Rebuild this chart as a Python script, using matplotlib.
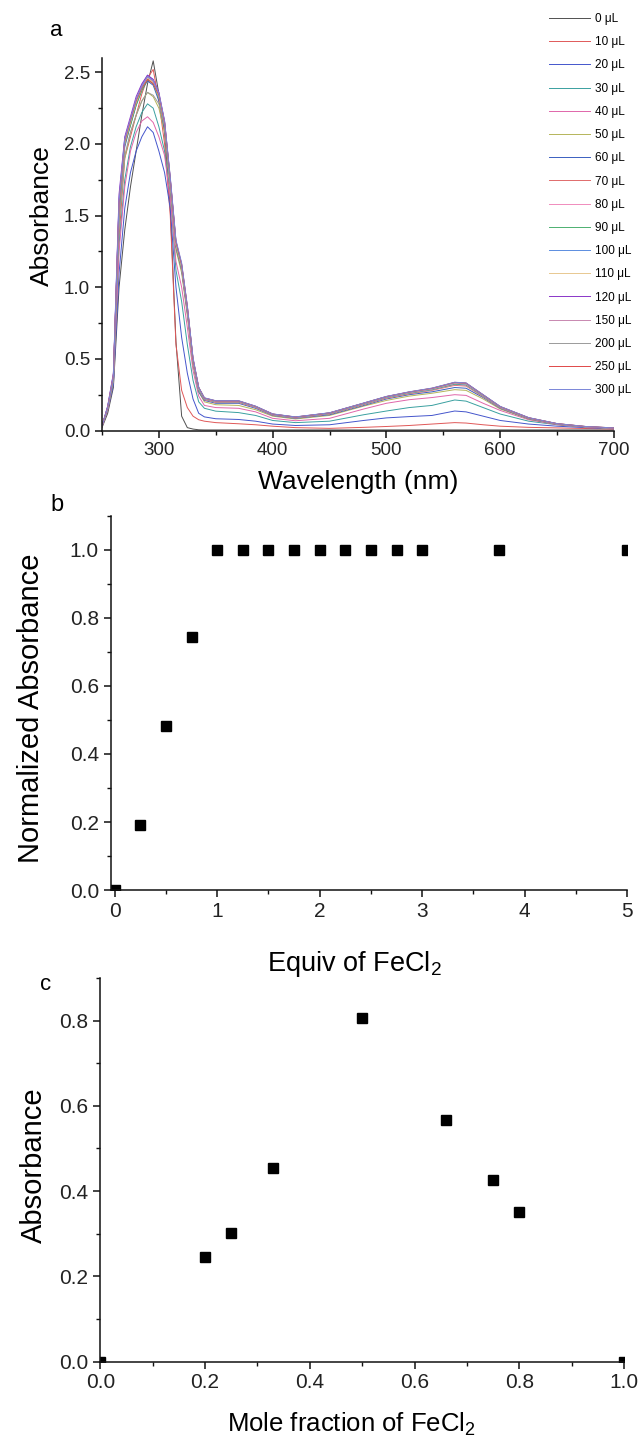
import numpy as np
import matplotlib
matplotlib.use("Agg")
import matplotlib.pyplot as plt
from matplotlib.ticker import MultipleLocator

plt.rcParams['font.family'] = ['Liberation Sans', 'DejaVu Sans']
plt.rcParams['mathtext.fontset'] = 'custom'
plt.rcParams['mathtext.rm'] = 'Liberation Sans'
plt.rcParams['mathtext.it'] = 'Liberation Sans:italic'

# ---- panel a: titration spectra ----
wl = [250, 255, 260, 265, 270, 275, 280, 285, 290, 295, 300, 305, 310, 315, 320,
      325, 330, 335, 340, 350, 370, 385, 400, 420, 450, 480, 500, 520, 540, 560,
      570, 585, 600, 625, 650, 675, 700]

vol_labels = ['0 μL', '10 μL', '20 μL', '30 μL', '40 μL', '50 μL', '60 μL', '70 μL',
              '80 μL', '90 μL', '100 μL', '110 μL', '120 μL', '150 μL', '200 μL',
              '250 μL', '300 μL']

colors = ['#505050', '#e05858', '#4455cc', '#3aa0a0', '#e066aa', '#b5b55a', '#3a5fc0',
          '#e06b6b', '#f08cbc', '#4cb070', '#5b8de0', '#e8c890', '#8a35c8', '#c888b0',
          '#9a9a9a', '#e04848', '#7a86d8']

a0 = [0.02, 0.12, 0.30, 1.00, 1.40, 1.70, 1.95, 2.20, 2.42, 2.58, 2.35, 2.08, 1.55, 0.62, 0.10,
      0.02, 0.01, 0.005, 0.004, 0.004, 0.004, 0.004, 0.004, 0.004, 0.004, 0.004, 0.004, 0.004, 0.004, 0.004,
      0.004, 0.004, 0.004, 0.004, 0.004, 0.004, 0.004]
a10 = [0.03, 0.14, 0.33, 1.35, 1.90, 2.05, 2.20, 2.35, 2.46, 2.52, 2.30, 2.00, 1.50, 0.60, 0.28,
       0.16, 0.10, 0.075, 0.065, 0.055, 0.047, 0.040, 0.030, 0.020, 0.015, 0.022, 0.028, 0.035, 0.045, 0.055,
       0.052, 0.040, 0.030, 0.022, 0.018, 0.014, 0.010]
a20 = [0.03, 0.14, 0.32, 1.10, 1.55, 1.80, 1.95, 2.05, 2.12, 2.08, 1.95, 1.80, 1.55, 1.00, 0.65,
       0.40, 0.22, 0.12, 0.095, 0.082, 0.077, 0.065, 0.045, 0.035, 0.040, 0.070, 0.088, 0.097, 0.105, 0.136,
       0.130, 0.100, 0.070, 0.045, 0.030, 0.020, 0.012]
a30 = [0.03, 0.15, 0.34, 1.30, 1.75, 1.98, 2.12, 2.22, 2.28, 2.25, 2.12, 1.95, 1.65, 1.12, 0.90,
       0.60, 0.35, 0.20, 0.155, 0.135, 0.125, 0.105, 0.070, 0.055, 0.065, 0.110, 0.136, 0.160, 0.175, 0.213,
       0.205, 0.160, 0.115, 0.065, 0.040, 0.025, 0.015]
a40 = [0.03, 0.15, 0.35, 1.25, 1.70, 1.95, 2.08, 2.16, 2.19, 2.15, 2.05, 1.92, 1.62, 1.18, 1.00,
       0.72, 0.42, 0.24, 0.175, 0.160, 0.155, 0.130, 0.085, 0.068, 0.085, 0.150, 0.190, 0.215, 0.230, 0.250,
       0.245, 0.190, 0.140, 0.075, 0.040, 0.025, 0.015]
a50 = [0.03, 0.15, 0.36, 1.45, 1.90, 2.08, 2.20, 2.30, 2.36, 2.33, 2.25, 2.08, 1.70, 1.26, 1.10,
       0.80, 0.46, 0.27, 0.20, 0.18, 0.175, 0.145, 0.100, 0.080, 0.105, 0.170, 0.210, 0.240, 0.260, 0.285,
       0.280, 0.220, 0.150, 0.080, 0.042, 0.025, 0.015]
a60 = [0.03, 0.16, 0.37, 1.50, 1.98, 2.13, 2.27, 2.38, 2.44, 2.41, 2.30, 2.10, 1.72, 1.28, 1.12,
       0.82, 0.47, 0.27, 0.21, 0.19, 0.19, 0.155, 0.105, 0.085, 0.110, 0.175, 0.220, 0.250, 0.270, 0.300,
       0.295, 0.230, 0.155, 0.082, 0.043, 0.025, 0.015]
a70 = [0.03, 0.16, 0.38, 1.55, 2.00, 2.14, 2.28, 2.39, 2.46, 2.43, 2.33, 2.13, 1.73, 1.29, 1.13,
       0.83, 0.47, 0.28, 0.215, 0.195, 0.195, 0.160, 0.108, 0.088, 0.115, 0.180, 0.225, 0.255, 0.280, 0.315,
       0.310, 0.235, 0.158, 0.084, 0.044, 0.025, 0.015]
a80 = [0.03, 0.16, 0.38, 1.60, 2.02, 2.16, 2.30, 2.40, 2.47, 2.44, 2.34, 2.14, 1.74, 1.30, 1.14,
       0.84, 0.48, 0.28, 0.218, 0.198, 0.198, 0.162, 0.110, 0.089, 0.117, 0.182, 0.228, 0.258, 0.283, 0.320,
       0.315, 0.238, 0.160, 0.085, 0.045, 0.026, 0.016]
a90 = [0.03, 0.16, 0.37, 1.55, 2.00, 2.13, 2.27, 2.37, 2.45, 2.42, 2.32, 2.13, 1.73, 1.29, 1.13,
       0.84, 0.48, 0.28, 0.220, 0.200, 0.200, 0.164, 0.111, 0.090, 0.118, 0.184, 0.230, 0.260, 0.285, 0.323,
       0.318, 0.240, 0.161, 0.085, 0.045, 0.026, 0.016]
a100 = [0.03, 0.17, 0.39, 1.62, 2.04, 2.17, 2.31, 2.41, 2.48, 2.45, 2.35, 2.15, 1.75, 1.31, 1.15,
        0.85, 0.49, 0.29, 0.222, 0.202, 0.202, 0.165, 0.112, 0.091, 0.120, 0.186, 0.232, 0.263, 0.288, 0.327,
        0.322, 0.243, 0.163, 0.086, 0.046, 0.026, 0.016]
a110 = [0.03, 0.16, 0.38, 1.58, 2.01, 2.15, 2.29, 2.39, 2.46, 2.43, 2.33, 2.14, 1.74, 1.30, 1.14,
        0.85, 0.49, 0.29, 0.224, 0.204, 0.204, 0.166, 0.113, 0.092, 0.121, 0.188, 0.234, 0.265, 0.290, 0.330,
        0.325, 0.245, 0.164, 0.087, 0.046, 0.026, 0.016]
a120 = [0.03, 0.17, 0.40, 1.65, 2.05, 2.19, 2.33, 2.42, 2.48, 2.45, 2.36, 2.16, 1.76, 1.32, 1.16,
        0.86, 0.50, 0.30, 0.226, 0.206, 0.206, 0.168, 0.114, 0.093, 0.122, 0.190, 0.236, 0.268, 0.293, 0.334,
        0.329, 0.248, 0.166, 0.088, 0.047, 0.027, 0.017]
a150 = [0.03, 0.16, 0.39, 1.60, 2.03, 2.17, 2.31, 2.40, 2.47, 2.44, 2.35, 2.15, 1.75, 1.31, 1.15,
        0.86, 0.50, 0.30, 0.225, 0.205, 0.205, 0.167, 0.114, 0.093, 0.122, 0.190, 0.236, 0.267, 0.292, 0.333,
        0.328, 0.247, 0.165, 0.088, 0.047, 0.027, 0.017]
a200 = [0.03, 0.15, 0.36, 1.45, 1.92, 2.08, 2.20, 2.30, 2.36, 2.34, 2.28, 2.12, 1.74, 1.31, 1.15,
        0.86, 0.50, 0.30, 0.226, 0.206, 0.206, 0.168, 0.115, 0.094, 0.123, 0.191, 0.237, 0.268, 0.294, 0.335,
        0.330, 0.248, 0.166, 0.089, 0.048, 0.028, 0.018]
a250 = [0.03, 0.16, 0.38, 1.58, 2.02, 2.16, 2.30, 2.39, 2.45, 2.42, 2.34, 2.15, 1.76, 1.32, 1.16,
        0.87, 0.50, 0.30, 0.227, 0.207, 0.207, 0.169, 0.115, 0.094, 0.123, 0.191, 0.237, 0.269, 0.295, 0.336,
        0.331, 0.249, 0.167, 0.089, 0.048, 0.028, 0.018]
a300 = [0.03, 0.16, 0.38, 1.60, 2.03, 2.17, 2.31, 2.40, 2.47, 2.44, 2.35, 2.16, 1.77, 1.33, 1.17,
        0.87, 0.51, 0.30, 0.228, 0.208, 0.208, 0.170, 0.116, 0.095, 0.124, 0.192, 0.238, 0.270, 0.296, 0.337,
        0.332, 0.250, 0.168, 0.090, 0.048, 0.028, 0.018]

spectra = [a0, a10, a20, a30, a40, a50, a60, a70, a80, a90, a100, a110, a120,
           a150, a200, a250, a300]

# ---- panel b: normalized absorbance vs equivalents ----
equiv = [0, 0.25, 0.5, 0.75, 1.0, 1.25, 1.5, 1.75, 2.0, 2.25, 2.5, 2.75, 3.0, 3.75, 5.0]
norm_abs = [0.0, 0.191, 0.481, 0.744, 1.0, 1.0, 1.0, 1.0, 1.0, 1.0, 1.0, 1.0, 1.0, 1.0, 1.0]

# ---- panel c: Job plot ----
mole_frac = [0.0, 0.2, 0.25, 0.33, 0.5, 0.66, 0.75, 0.8, 1.0]
job_abs = [0.0, 0.245, 0.302, 0.455, 0.805, 0.566, 0.427, 0.352, 0.0]

W, H = 643, 1444
fig = plt.figure(figsize=(W / 100, H / 100), dpi=100)


def style(ax, tsize):
    for s in ['top', 'right']:
        ax.spines[s].set_visible(False)
    for s in ['left', 'bottom']:
        ax.spines[s].set_linewidth(1.1)
        ax.spines[s].set_color('#111111')
    ax.tick_params(which='major', direction='out', length=5, width=1.1,
                   labelsize=tsize, colors='#111111', labelcolor='#222222')
    ax.tick_params(which='minor', direction='out', length=3, width=1.0, colors='#111111')


def box(l, t, r, b):
    return [l / W, 1 - b / H, (r - l) / W, (b - t) / H]


# panel a
ax1 = fig.add_axes(box(102, 58, 614, 430.5))
for y, c, lab in zip(spectra, colors, vol_labels):
    ax1.plot(wl, y, color=c, lw=0.7, label=lab)
ax1.set_xlim(250, 700)
ax1.set_ylim(0, 2.6)
ax1.xaxis.set_major_locator(MultipleLocator(100))
ax1.xaxis.set_minor_locator(MultipleLocator(50))
ax1.yaxis.set_major_locator(MultipleLocator(0.5))
ax1.yaxis.set_minor_locator(MultipleLocator(0.25))
style(ax1, 13.5)
ax1.set_xlabel('Wavelength (nm)', fontsize=19, labelpad=8)
ax1.set_ylabel('Absorbance', fontsize=19, labelpad=7)
ax1.yaxis.label.set_y(0.578)
fig.text(50 / W, 1 - 30 / H, 'a', fontsize=16, ha='left', va='center')
fig.legend(loc='upper left', bbox_to_anchor=(549 / W, 1 - 13 / H), frameon=False,
           fontsize=8.5, handlelength=3.5, handletextpad=0.42, labelspacing=0.95,
           borderpad=0, borderaxespad=0)

# panel b
ax2 = fig.add_axes(box(110.7, 516, 627, 890))
ax2.plot(equiv, norm_abs, 's', color='black', ms=6.5)
ax2.set_xlim(-0.04, 5)
ax2.set_ylim(0, 1.1)
ax2.xaxis.set_major_locator(MultipleLocator(1))
ax2.xaxis.set_minor_locator(MultipleLocator(0.5))
ax2.yaxis.set_major_locator(MultipleLocator(0.2))
ax2.yaxis.set_minor_locator(MultipleLocator(0.1))
style(ax2, 15)
ax2.set_xlabel('Equiv of FeCl$_2$', fontsize=19.5, labelpad=20)
ax2.xaxis.label.set_x(0.471)
ax2.set_ylabel('Normalized Absorbance', fontsize=21, labelpad=18)
ax2.yaxis.label.set_y(0.487)
fig.text(50 / W, 1 - 505 / H, 'b', fontsize=17, ha='left', va='center')

# panel c
ax3 = fig.add_axes(box(100.4, 978, 624, 1361.5))
ax3.plot(mole_frac, job_abs, 's', color='black', ms=6.5)
ax3.set_xlim(0, 1)
ax3.set_ylim(0, 0.9)
ax3.xaxis.set_major_locator(MultipleLocator(0.2))
ax3.xaxis.set_minor_locator(MultipleLocator(0.1))
ax3.yaxis.set_major_locator(MultipleLocator(0.2))
ax3.yaxis.set_minor_locator(MultipleLocator(0.1))
style(ax3, 15)
ax3.set_xlabel('Mole fraction of FeCl$_2$', fontsize=18.5, labelpad=13)
ax3.xaxis.label.set_x(0.48)
ax3.set_ylabel('Absorbance', fontsize=21, labelpad=8)
ax3.yaxis.label.set_y(0.512)
fig.text(40 / W, 1 - 985 / H, 'c', fontsize=16, ha='left', va='center')

fig.savefig('out.png', dpi=100)
